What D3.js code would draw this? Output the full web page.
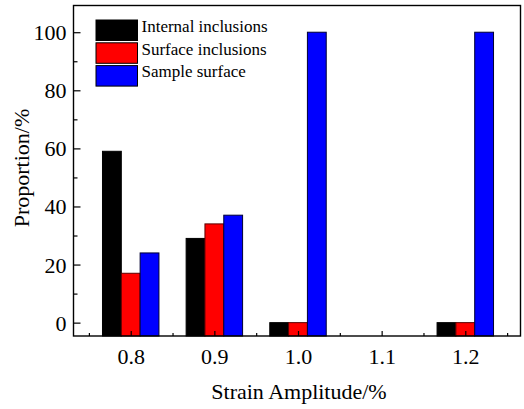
<!DOCTYPE html>
<html><head><meta charset="utf-8">
<script src="https://cdn.jsdelivr.net/npm/d3@7"></script>
<style>body{margin:0;background:#fff;}svg{display:block;}
svg text{font-family:"Liberation Serif","Times New Roman",Times,"DejaVu Serif",serif !important;}</style>
</head><body>
<script>
const categories = [0.8, 0.9, 1.0, 1.2];
const internalInclusions = [59, 29, 0, 0];
const surfaceInclusions = [17, 34, 0, 0];
const sampleSurface = [24, 37, 100, 100];
const seriesNames = ["Internal inclusions", "Surface inclusions", "Sample surface"];
const seriesColors = ["#000000", "#ff0000", "#0000ff"];
const seriesStrokes = ["#000000", "#5a0000", "#000033"];
const xTickValues = [0.8, 0.9, 1.0, 1.1, 1.2];
const xMinorValues = [0.75, 0.85, 0.95, 1.05, 1.15, 1.25];
const yTickValues = [0, 20, 40, 60, 80, 100];
const yMinorValues = [10, 30, 50, 70, 90];

const W = 524, H = 409;
const L = 73.5, R = 520.5, T = 5.5, B = 336;

const svg = d3.select("body").append("svg").attr("width", W).attr("height", H);
const x = d3.scaleLinear().domain([0.7316, 1.2660]).range([L, R]);
const y = d3.scaleLinear().domain([-4.6, 109.2]).range([B, T]);

const series = [internalInclusions, surfaceInclusions, sampleSurface];
const barW = 0.0225;

series.forEach((vals, si) => {
  svg.append("g").selectAll("rect").data(categories.map((c, i) => ({c, v: vals[i]})))
    .enter().append("rect")
    .attr("x", d => x(d.c + (si - 1.5) * barW))
    .attr("width", d => x(d.c + (si - 0.5) * barW) - x(d.c + (si - 1.5) * barW))
    .attr("y", d => y(d.v))
    .attr("height", d => y(-4.6) - y(d.v))
    .attr("fill", seriesColors[si])
    .attr("stroke", seriesStrokes[si])
    .attr("stroke-width", 1);
});

// axes
const gx = svg.append("g").attr("transform", `translate(0,${B})`);
gx.call(d3.axisBottom(x).tickValues(xTickValues).tickSize(-5).tickFormat(d3.format(".1f")));
const gxm = svg.append("g").attr("transform", `translate(0,${B})`);
gxm.call(d3.axisBottom(x).tickValues(xMinorValues).tickSize(-3).tickFormat(""));
const gy = svg.append("g").attr("transform", `translate(${L},0)`);
gy.call(d3.axisLeft(y).tickValues(yTickValues).tickSize(-7).tickFormat(d3.format("d")));
const gym = svg.append("g").attr("transform", `translate(${L},0)`);
gym.call(d3.axisLeft(y).tickValues(yMinorValues).tickSize(-4).tickFormat(""));

[gx, gxm, gy, gym].forEach(g => {
  g.attr("font-family", null).attr("font-size", null);
  g.select(".domain").remove();
  g.selectAll(".tick line").attr("stroke", "#000").attr("stroke-width", 1.2);
  g.selectAll(".tick text").attr("font-size", 22).attr("fill", "#000");
});
gx.selectAll(".tick text").attr("dy", null).attr("y", 28);
gy.selectAll(".tick text").attr("x", -7).attr("dy", "0.34em");

// frame
svg.append("rect").attr("x", L).attr("y", T).attr("width", R - L).attr("height", B - T)
  .attr("fill", "none").attr("stroke", "#000").attr("stroke-width", 1.4);

// titles
svg.append("text").attr("x", 299).attr("y", 399).attr("text-anchor", "middle")
  .attr("font-size", 22).text("Strain Amplitude/%");
svg.append("text").attr("transform", "translate(28.5,168) rotate(-90)").attr("text-anchor", "middle")
  .attr("font-size", 22).text("Proportion/%");

// legend
const lg = svg.append("g");
seriesNames.forEach((n, i) => {
  const yy = 20 + i * 22.8;
  lg.append("rect").attr("x", 96).attr("y", yy).attr("width", 41.5).attr("height", 20.5)
    .attr("fill", seriesColors[i]).attr("stroke", "#000").attr("stroke-width", 1);
  lg.append("text").attr("x", 141.5).attr("y", yy + 11.7)
    .attr("font-size", 17).text(n);
});
</script>
</body></html>
